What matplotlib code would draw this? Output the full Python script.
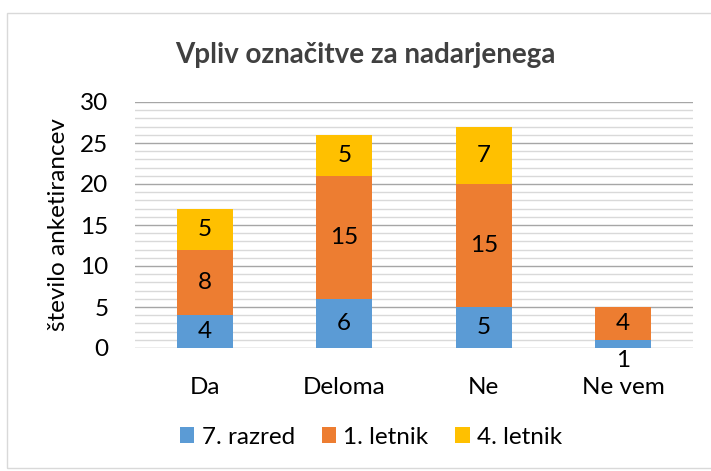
import numpy as np
import matplotlib.pyplot as plt
from matplotlib.patches import Rectangle

plt.rcParams['font.family'] = ['Lato', 'DejaVu Sans']

categories = ['Da', 'Deloma', 'Ne', 'Ne vem']
razred7 = [4, 6, 5, 1]
letnik1 = [8, 15, 15, 4]
letnik4 = [5, 5, 7, 0]
series_names = ['7. razred', '1. letnik', '4. letnik']
colors = ['#5B9BD5', '#ED7D31', '#FFC000']

fs = 17.5

fig = plt.figure(figsize=(7.11, 4.71), dpi=100)
fig.patches.append(Rectangle((7 / 711, 3 / 471), 1.2, 455 / 471, transform=fig.transFigure,
                             fill=False, edgecolor='#D9D9D9', linewidth=1))
ax = fig.add_axes([135 / 711, 1 - 348 / 471, 558 / 711, 246 / 471])

x = np.arange(len(categories))
bottom = np.zeros(len(categories))
for vals, name, c in zip([razred7, letnik1, letnik4], series_names, colors):
    vals = np.array(vals)
    ax.bar(x, vals, 0.4, bottom=bottom, color=c, label=name, zorder=3)
    for xi, b, v in zip(x, bottom, vals):
        if v == 0:
            continue
        if v == 1:
            ax.text(xi, -0.3, str(v), ha='center', va='top', fontsize=fs)
        else:
            ax.text(xi, b + v / 2, str(v), ha='center', va='center', fontsize=fs)
    bottom += vals

ax.set_xlim(-0.5, 3.5)
ax.set_ylim(0, 30)
ax.set_yticks(range(0, 31, 5))
ax.set_yticks(range(0, 31, 1), minor=True)
ax.grid(axis='y', which='major', color='#A6A6A6', linewidth=1, zorder=0)
ax.grid(axis='y', which='minor', color='#D9D9D9', linewidth=1, zorder=0)
ax.tick_params(axis='y', which='both', length=0, labelsize=fs, pad=19)
ax.set_xticks(x)
ax.set_xticklabels(categories)
ax.tick_params(axis='x', length=0, labelsize=fs, pad=21)
for s in ax.spines.values():
    s.set_visible(False)
ax.set_ylabel('število anketirancev', fontsize=fs, labelpad=8)

fig.text(365 / 711, 1 - 55 / 471, 'Vpliv označitve za nadarjenega', ha='center', va='center',
         fontsize=20, fontweight='bold', color='#404040')

fig.legend(loc='center', bbox_to_anchor=(371 / 711, 1 - 437 / 471), ncol=3, frameon=False,
           fontsize=fs, handlelength=0.6, handleheight=0.6, columnspacing=1.1, handletextpad=0.3)

fig.savefig('out.png', dpi=100)
